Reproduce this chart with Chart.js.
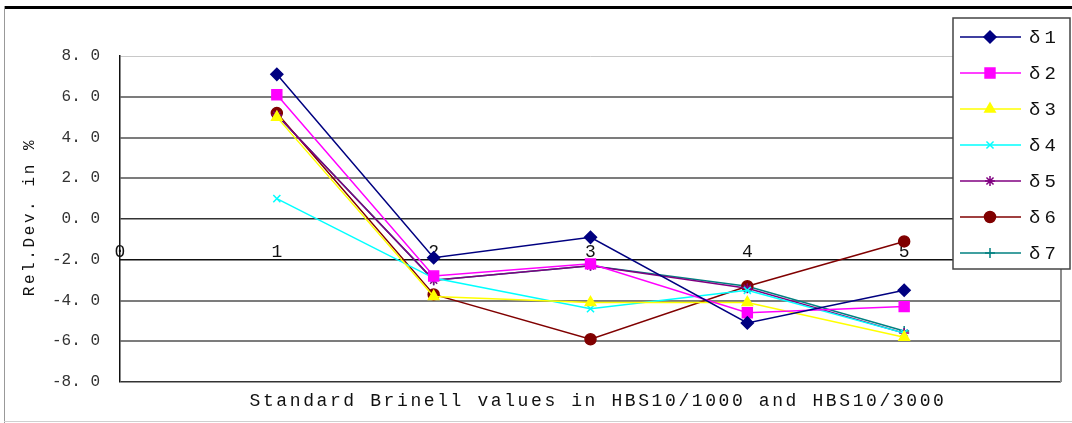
<!DOCTYPE html>
<html>
<head>
<meta charset="utf-8">
<script src="https://cdn.jsdelivr.net/npm/chart.js@4/dist/chart.umd.min.js"></script>
<style>
  html, body { margin: 0; padding: 0; background: #fff; }
  #wrap { width: 1072px; height: 423px; }
</style>
</head>
<body>
<div id="wrap"><canvas id="devChart" width="1072" height="423"></canvas></div>
<script>
// ---- data ----
var categories = [1, 2, 3, 4, 5];
var seriesNames = ['δ1', 'δ2', 'δ3', 'δ4', 'δ5', 'δ6', 'δ7'];
var d1 = [7.1, -1.9, -0.9, -5.1, -3.5];
var d2 = [6.1, -2.8, -2.2, -4.6, -4.3];
var d3 = [5.0, -3.8, -4.1, -4.1, -5.8];
var d4 = [1.0, -2.9, -4.4, -3.5, -5.6];
var d5 = [5.1, -3.0, -2.3, -3.4, -5.6];
var d6 = [5.2, -3.7, -5.9, -3.3, -1.1];
var d7 = [5.1, -3.0, -2.3, -3.3, -5.5];
var xTickLabels = ['0', '1', '2', '3', '4', '5'];
var yTickLabels = ['-8. 0', '-6. 0', '-4. 0', '-2. 0', '0. 0', '2. 0', '4. 0', '6. 0', '8. 0'];
var xTitle = 'Standard Brinell values in HBS10/1000 and HBS10/3000';
var yTitle = 'Rel.Dev. in %';

var seriesValues = [d1, d2, d3, d4, d5, d6, d7];
var seriesColors = ['#000080', '#ff00ff', '#ffff00', '#00ffff', '#800080', '#800000', '#008080'];
var seriesMarkers = ['rectRot', 'rect', 'triangle', 'crossRot', 'star', 'circle', 'cross'];
var markerSizes = [6, 7, 6, 5, 5, 5.5, 5];

function toPoints(vals) {
    return vals.map(function(v, i) { return { x: categories[i], y: v }; });
}

var datasets = seriesValues.map(function(vals, i) {
    return {
        label: seriesNames[i],
        data: toPoints(vals),
        borderColor: seriesColors[i],
        backgroundColor: seriesColors[i],
        borderWidth: 1.5,
        pointStyle: seriesMarkers[i],
        pointRadius: markerSizes[i],
        pointBorderWidth: 1.5,
        pointBackgroundColor: seriesColors[i],
        pointBorderColor: seriesColors[i],
        tension: 0
    };
});

// ---- frame, legend and axis titles ----
var decorPlugin = {
    id: 'decor',
    afterDraw: function(chart) {
        var ctx = chart.ctx, a = chart.chartArea;
        ctx.save();

        // plot area right edge
        ctx.strokeStyle = '#8c8c8c';
        ctx.lineWidth = 2;
        ctx.beginPath();
        ctx.moveTo(a.right, a.top); ctx.lineTo(a.right, a.bottom);
        ctx.stroke();

        // legend box
        var bx = 953, by = 18, bw = 117, bh = 251;
        ctx.fillStyle = '#fff';
        ctx.fillRect(bx, by, bw, bh);
        ctx.strokeStyle = '#444';
        ctx.lineWidth = 1.5;
        ctx.strokeRect(bx, by, bw, bh);

        ctx.font = '19px "Liberation Mono"';
        ctx.textBaseline = 'middle';
        ctx.textAlign = 'left';
        chart.data.datasets.forEach(function(ds, i) {
            var y = 37 + i * 36;
            ctx.strokeStyle = ds.borderColor;
            ctx.lineWidth = 1.5;
            ctx.beginPath(); ctx.moveTo(960, y); ctx.lineTo(1021, y); ctx.stroke();
            ctx.fillStyle = ds.backgroundColor;
            Chart.helpers.drawPoint(ctx, { pointStyle: ds.pointStyle, radius: ds.pointRadius, borderWidth: 1.5 }, 990, y);
            ctx.fillStyle = '#111';
            ctx.letterSpacing = '4px';
            ctx.fillText(ds.label, 1029, y + 1);
            ctx.letterSpacing = '0px';
        });

        // x title
        ctx.fillStyle = '#111';
        ctx.textAlign = 'center';
        ctx.font = '18px "Liberation Mono"';
        ctx.letterSpacing = '2.6px';
        ctx.fillText(xTitle, 598, 401);

        // y title
        ctx.save();
        ctx.translate(30, 217);
        ctx.rotate(-Math.PI / 2);
        ctx.font = '16px "Liberation Mono"';
        ctx.letterSpacing = '2.6px';
        ctx.fillText(yTitle, 0, 0);
        ctx.restore();
        ctx.letterSpacing = '0px';

        // outer frame
        ctx.fillStyle = '#000';
        ctx.fillRect(4, 6, 1068, 3);
        ctx.fillStyle = '#999';
        ctx.fillRect(4, 6, 1, 417);
        ctx.fillStyle = '#d0d0d0';
        ctx.fillRect(4, 421, 1068, 1);

        ctx.restore();
    }
};

new Chart(document.getElementById('devChart').getContext('2d'), {
    type: 'line',
    data: { datasets: datasets },
    options: {
        responsive: false,
        animation: false,
        layout: { padding: { top: 56, right: 11, left: 0, bottom: 41 } },
        plugins: { legend: { display: false }, tooltip: { enabled: false } },
        scales: {
            x: {
                type: 'linear',
                min: 0, max: 6,
                position: { y: -2 },
                grid: { display: false, drawTicks: false },
                border: { display: true, color: '#111', width: 1.5 },
                ticks: {
                    stepSize: 1,
                    padding: -18,
                    color: '#111',
                    font: { family: 'Liberation Mono', size: 18 },
                    callback: function(v) { return xTickLabels[v] !== undefined ? xTickLabels[v] : null; }
                }
            },
            y: {
                min: -8, max: 8,
                afterFit: function(s) { s.width = 120; },
                grid: {
                    drawTicks: false,
                    color: function(c) {
                        var v = c.tick.value;
                        if (v === 8) return '#c8c8c8';
                        if (v === -2) return 'rgba(0,0,0,0)';
                        if (v === 0 || v === -8) return '#333';
                        return '#7c7c7c';
                    },
                    lineWidth: function(c) {
                        var v = c.tick.value;
                        if (v === 8) return 1;
                        if (v === 0 || v === -8) return 1.5;
                        return 2;
                    }
                },
                border: { display: true, color: '#111', width: 1.5 },
                ticks: {
                    stepSize: 2,
                    padding: 20,
                    color: '#333',
                    font: { family: 'Liberation Mono', size: 16 },
                    callback: function(v) { return yTickLabels[(v + 8) / 2]; }
                }
            }
        }
    },
    plugins: [decorPlugin]
});
</script>
</body>
</html>
